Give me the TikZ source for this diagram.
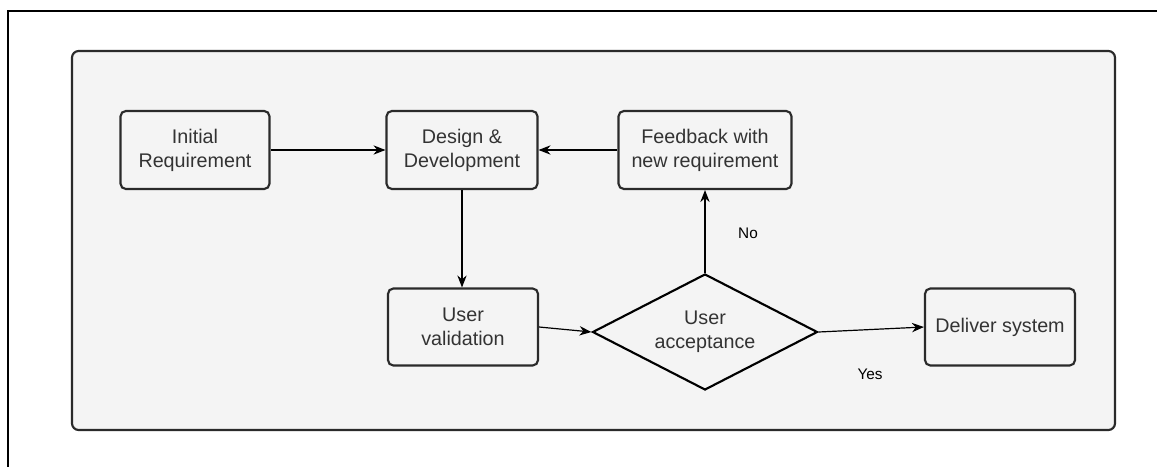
\documentclass[tikz,border=0pt]{standalone}
\usepackage{fontspec}
\setmainfont{Liberation Sans}
\usetikzlibrary{shapes.geometric,arrows.meta}
\definecolor{panel}{HTML}{F4F4F4}
\definecolor{txt}{HTML}{333333}
\definecolor{edge}{HTML}{2A2A2A}
\tikzset{
  stepbox/.style={draw=edge, line width=1.6pt, rounded corners=4pt, fill=panel,
    minimum width=149*0.75pt, minimum height=78*0.75pt, inner sep=0pt,
    align=center, text=txt, font=\fontsize{14.8}{18}\selectfont},
  decision/.style={diamond, draw=black, line width=1.6pt, fill=panel, aspect=1.94,
    minimum width=225*0.75pt, minimum height=116*0.75pt, inner sep=0pt,
    align=center, text=txt, font=\fontsize{14.8}{18}\selectfont},
  conn/.style={draw=black, line width=0.9pt, -{Stealth[length=9pt,width=7pt]}},
  lbl/.style={text=black, font=\fontsize{11.5}{13}\selectfont, inner sep=0pt}
}
\begin{document}
\begin{tikzpicture}[x=0.75pt,y=-0.75pt]
\useasboundingbox (0,0) rectangle (1157,467);
\fill[white] (0,0) rectangle (1157,467);
\draw[line width=1.2pt, black] (8,467) -- (8,11) -- (1157,11);
\draw[draw=edge, line width=1.6pt, rounded corners=5pt, fill=panel] (72,51) rectangle (1115,430);

\node[stepbox] (init) at (195,150) {Initial\\Requirement};
\node[stepbox, minimum width=151*0.75pt] (design) at (462,150) {Design \&\\Development};
\node[stepbox, minimum width=173*0.75pt] (feed) at (705,150) {Feedback with\\new requirement};
\node[stepbox, minimum width=150*0.75pt, minimum height=77*0.75pt] (valid) at (463,327) {User\\validation};
\node[decision] (accept) at (705,332) {User\\acceptance};
\node[stepbox, minimum width=150*0.75pt, minimum height=77*0.75pt] (deliver) at (1000,327) {Deliver system};

\draw[conn] (init) -- (design);
\draw[conn] (feed) -- (design);
\draw[conn] (design.south -| 462,0) -- (valid.north -| 462,0);
\draw[conn] (valid.east) -- (accept.west);
\draw[conn] (accept.east) -- (deliver.west);
\draw[conn] (accept.north) -- (feed.south);

\node[lbl] (no) at (748,233) {No};
\node[lbl] (yes) at (870,374) {Yes};
\end{tikzpicture}
\end{document}
